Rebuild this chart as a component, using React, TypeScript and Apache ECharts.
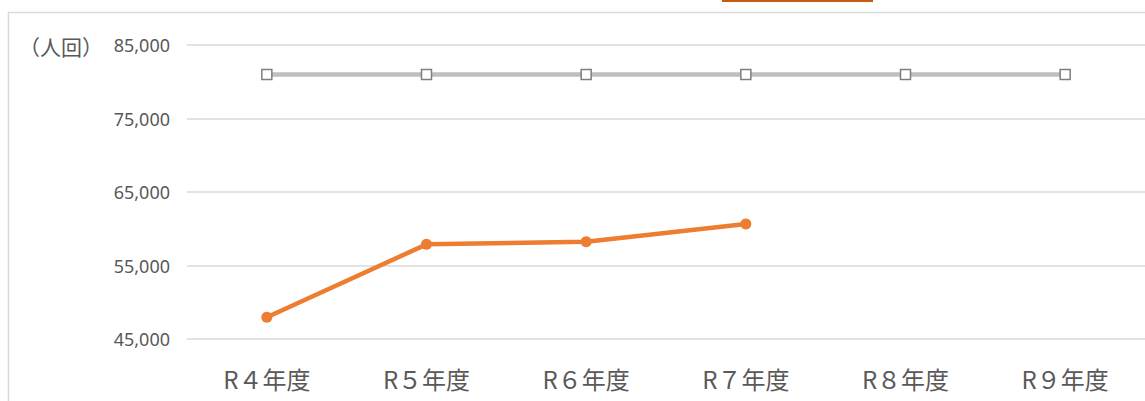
import React, { useEffect, useRef } from "react";
import * as echarts from "echarts";

const categories = ["R４年度", "R５年度", "R６年度", "R７年度", "R８年度", "R９年度"];
const actualValues = [47950, 57880, 58240, 60650, null, null];
const targetValues = [81000, 81000, 81000, 81000, 81000, 81000];
const yTicks = { min: 45000, max: 85000, interval: 10000 };
const unitLabel = "（人回）";

export default function App() {
  const ref = useRef<HTMLDivElement>(null);
  useEffect(() => {
    if (!ref.current) return;
    const chart = echarts.init(ref.current, null, { renderer: "svg" });
    const cjk = "'Noto Sans CJK JP', 'Noto Sans', sans-serif";
    const latin = "'Noto Sans', sans-serif";
    chart.setOption({
      animation: false,
      backgroundColor: "#ffffff",
      grid: { left: 187, right: -4, top: 45, bottom: 62, containLabel: false },
      xAxis: {
        type: "category",
        data: categories,
        boundaryGap: true,
        axisLine: { show: false },
        axisTick: { show: false },
        axisLabel: { color: "#595959", fontSize: 24, fontFamily: cjk, margin: 27 },
      },
      yAxis: {
        type: "value",
        min: yTicks.min,
        max: yTicks.max,
        interval: yTicks.interval,
        axisLine: { show: false },
        axisTick: { show: false },
        splitLine: { lineStyle: { color: "#d9d9d9", width: 1.5 } },
        axisLabel: {
          color: "#595959",
          fontSize: 18,
          fontFamily: latin,
          margin: 17,
          formatter: (v: number) => v.toLocaleString("en-US"),
        },
      },
      graphic: [
        {
          type: "rect",
          shape: { x: 8.5, y: 12.5, width: 1300, height: 600 },
          style: { fill: "none", stroke: "#d9d9d9", lineWidth: 1.5 },
          silent: true,
        },
        {
          type: "rect",
          shape: { x: 722, y: 0, width: 151, height: 2 },
          style: { fill: "#c55a11" },
          silent: true,
        },
        {
          type: "text",
          x: 19,
          y: 46,
          style: {
            text: unitLabel,
            fill: "#595959",
            fontSize: 21,
            fontFamily: cjk,
            verticalAlign: "middle",
          },
          silent: true,
        },
      ],
      series: [
        {
          type: "line",
          data: targetValues,
          symbol: "rect",
          symbolSize: 10,
          lineStyle: { color: "#bfbfbf", width: 4.5 },
          itemStyle: { color: "#ffffff", borderColor: "#7f7f7f", borderWidth: 1.5 },
          z: 2,
        },
        {
          type: "line",
          data: actualValues,
          symbol: "circle",
          symbolSize: 11,
          lineStyle: { color: "#ed7d31", width: 4.5 },
          itemStyle: { color: "#ed7d31" },
          z: 3,
        },
      ],
    });
    return () => chart.dispose();
  }, []);
  return (
    <div
      ref={ref}
      style={{ position: "absolute", left: 0, top: 0, width: 1145, height: 401 }}
    />
  );
}
